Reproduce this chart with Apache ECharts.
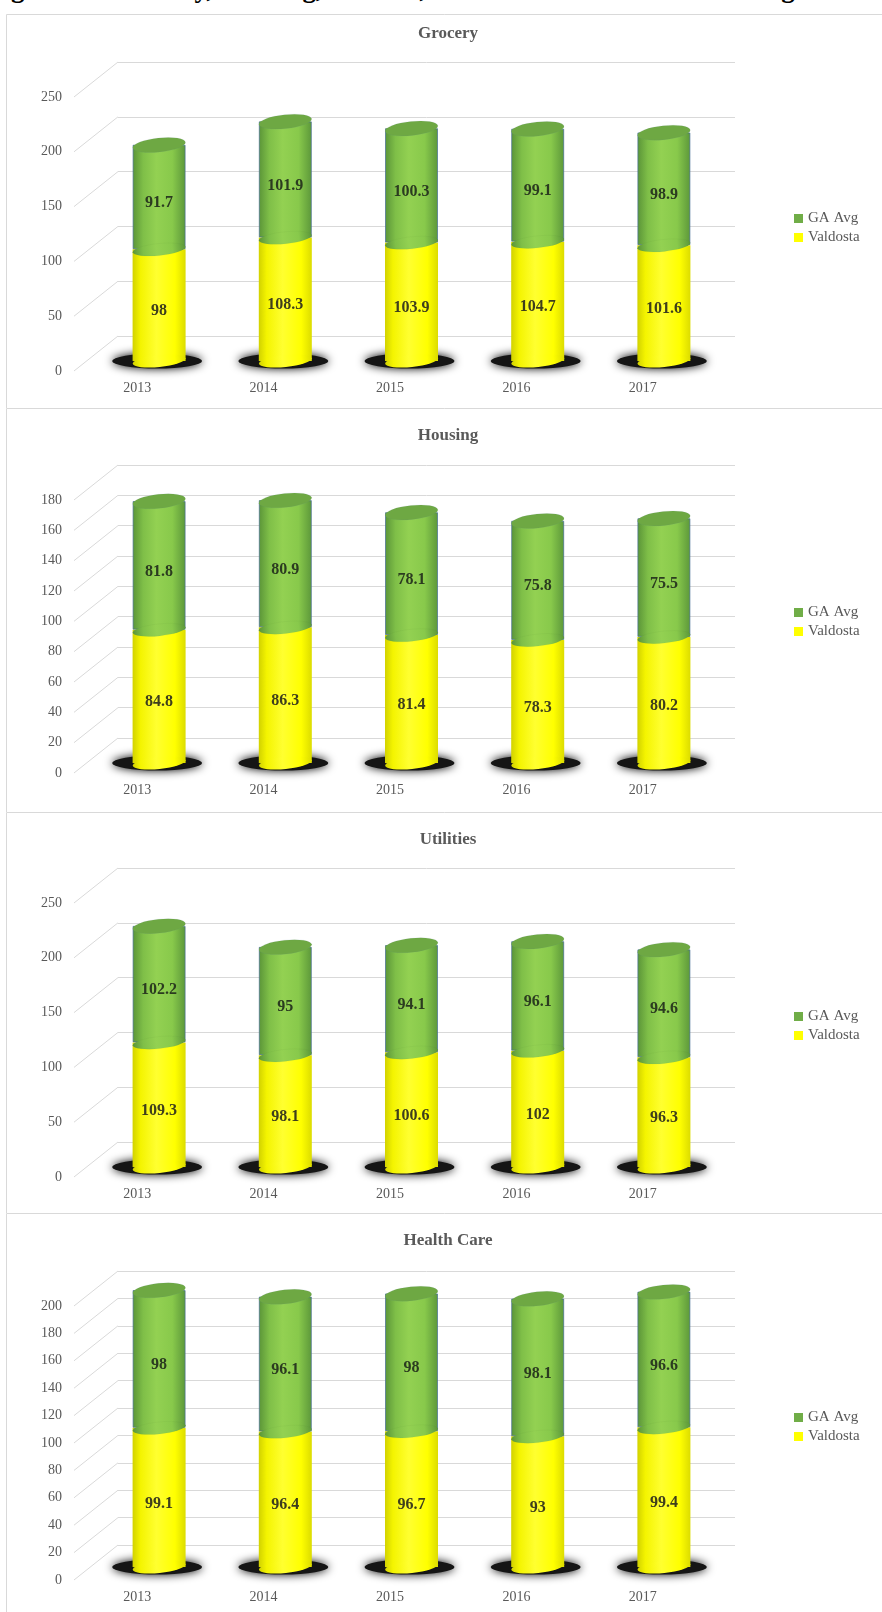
<!DOCTYPE html>
<html>
<head>
<meta charset="utf-8">
<script src="https://cdn.jsdelivr.net/npm/echarts@6/dist/echarts.min.js"></script>
<style>
  html, body { margin: 0; padding: 0; background: #fff; }
  #cap { position: absolute; left: 0; top: 0; width: 882px; height: 12px; overflow: hidden; }
  #cap div { position: absolute; left: -13px; top: -27px; font: bold 27px "Liberation Serif"; white-space: nowrap; color: #000; }
  .panel { position: absolute; left: 0; width: 882px; }
</style>
</head>
<body>
<div id="cap"><div>Figure 14: Grocery, Housing, Utilities, and Health Care Cost of Living Index</div></div>
<div id="p0" class="panel" style="top:14px;height:394px"></div>
<div id="p1" class="panel" style="top:408px;height:404px"></div>
<div id="p2" class="panel" style="top:812px;height:401px"></div>
<div id="p3" class="panel" style="top:1213px;height:399px"></div>
<script>
// data
const years = ['2013', '2014', '2015', '2016', '2017'];

const groceryValdosta = [98, 108.3, 103.9, 104.7, 101.6];
const groceryGA = [91.7, 101.9, 100.3, 99.1, 98.9];
const groceryTicks = [0, 50, 100, 150, 200, 250];

const housingValdosta = [84.8, 86.3, 81.4, 78.3, 80.2];
const housingGA = [81.8, 80.9, 78.1, 75.8, 75.5];
const housingTicks = [0, 20, 40, 60, 80, 100, 120, 140, 160, 180];

const utilitiesValdosta = [109.3, 98.1, 100.6, 102, 96.3];
const utilitiesGA = [102.2, 95, 94.1, 96.1, 94.6];
const utilitiesTicks = [0, 50, 100, 150, 200, 250];

const healthValdosta = [99.1, 96.4, 96.7, 93, 99.4];
const healthGA = [98, 96.1, 98, 98.1, 96.6];
const healthTicks = [0, 20, 40, 60, 80, 100, 120, 140, 160, 180, 200];

// cylinder shading
const yellowFill = { type: 'linear', x: 0, y: 0, x2: 1, y2: 0, colorStops: [
  { offset: 0, color: '#d2d200' }, { offset: 0.15, color: '#f4f400' },
  { offset: 0.45, color: '#ffff30' }, { offset: 0.8, color: '#ffff00' }, { offset: 1, color: '#dcdc00' }
] };
const greenFill = { type: 'linear', x: 0, y: 0, x2: 1, y2: 0, colorStops: [
  { offset: 0, color: '#5a9438' }, { offset: 0.2, color: '#7fbf48' },
  { offset: 0.45, color: '#93d152' }, { offset: 0.75, color: '#88c94b' }, { offset: 1, color: '#5c973a' }
] };

// 3D 斜线：从前沿标签处连到后墙
function diagonal(params, api) {
  const cs = params.coordSys;
  const y = api.coord([0, api.value(1)])[1];
  return {
    type: 'line',
    shape: { x1: cs.x - 44, y1: y + 35, x2: cs.x, y2: y },
    style: { stroke: '#d9d9d9', lineWidth: 1 }
  };
}

function buildPanel(el, p) {
  const chart = echarts.init(el);
  const totals = p.valdosta.map((v, i) => +(v + p.ga[i]).toFixed(1));
  const max = p.ticks[p.ticks.length - 1];
  const step = p.ticks[1] - p.ticks[0];
  const H = el.clientHeight;
  const barAxes = { xAxisIndex: 2, yAxisIndex: 2 };
  const labelFont = { fontFamily: 'Liberation Serif', fontWeight: 'bold', fontSize: 16 };

  chart.setOption({
    animation: false,
    textStyle: { fontFamily: 'Liberation Serif' },
    title: {
      text: p.title, left: 443, top: p.titleTop, textAlign: 'center',
      textStyle: { fontSize: 17, fontWeight: 'bold', color: '#595959', fontFamily: 'Liberation Serif' }
    },
    legend: {
      orient: 'vertical', left: 794, top: 197, padding: 0,
      itemWidth: 9, itemHeight: 9, itemGap: 4, icon: 'rect',
      textStyle: { fontSize: 15, color: '#595959', fontFamily: 'Liberation Serif' },
      data: [
        { name: 'GA Avg', itemStyle: { color: '#70ad47', borderWidth: 0 } },
        { name: 'Valdosta', itemStyle: { color: '#ffff00', borderWidth: 0 } }
      ]
    },
    graphic: [{
      type: 'rect', silent: true, z: -1,
      shape: { x: 6.5, y: 0.5, width: 900, height: H + 10 },
      style: { fill: 'none', stroke: '#d9d9d9', lineWidth: 1 }
    }],
    grid: [
      { left: 118, right: 147, top: p.frontTop - 35, height: p.frontH },  // back wall
      { left: 74, right: 176, top: p.frontTop, height: p.frontH },        // front edge
      { left: 96, right: 155, top: p.barBase - p.barH, height: p.barH }   // cylinders
    ],
    xAxis: [
      { gridIndex: 0, type: 'category', data: years, show: false },
      { gridIndex: 1, type: 'category', data: years,
        axisLine: { show: false }, axisTick: { show: false },
        axisLabel: { color: '#595959', fontSize: 14, margin: 10 } },
      { gridIndex: 2, type: 'category', data: years, show: false }
    ],
    yAxis: [
      { gridIndex: 0, type: 'value', min: 0, max: max, interval: step,
        axisLabel: { show: false }, axisLine: { show: false }, axisTick: { show: false },
        splitLine: { lineStyle: { color: '#d9d9d9', width: 1 } } },
      { gridIndex: 1, type: 'value', min: 0, max: max, interval: step,
        splitLine: { show: false }, axisLine: { show: false }, axisTick: { show: false },
        axisLabel: { color: '#595959', fontSize: 14, margin: 12 } },
      { gridIndex: 2, type: 'value', min: 0, max: max, show: false }
    ],
    series: [
      { type: 'custom', xAxisIndex: 0, yAxisIndex: 0, silent: true, z: 1,
        data: p.ticks.map(v => [0, v]), encode: { x: 0, y: 1 }, renderItem: diagonal },
      // 底部阴影
      Object.assign({ type: 'pictorialBar', symbol: 'circle', data: p.valdosta,
        symbolSize: [90, 15], symbolPosition: 'start', symbolOffset: [-2, '50%'],
        itemStyle: { color: '#151515', shadowBlur: 10, shadowColor: '#000' }, z: 2, silent: true }, barAxes),
      Object.assign({ name: 'Valdosta', type: 'bar', stack: 'c', barWidth: 53, data: p.valdosta,
        itemStyle: { color: yellowFill }, z: 3,
        label: Object.assign({ show: true, position: 'inside', offset: [0, 6], color: '#3e3e1c' }, labelFont) }, barAxes),
      Object.assign({ name: 'GA Avg', type: 'bar', stack: 'c', barWidth: 53, data: p.ga,
        itemStyle: { color: greenFill, borderColor: 'rgba(70,110,150,0.7)', borderWidth: 1 }, z: 3,
        label: Object.assign({ show: true, position: 'inside', offset: [0, 6], color: '#2b3b20' }, labelFont) }, barAxes),
      // 黄色底面
      Object.assign({ type: 'pictorialBar', symbol: 'circle', data: p.valdosta,
        symbolSize: [53, 12], symbolPosition: 'start', symbolOffset: [0, '50%'], symbolRotate: 6,
        itemStyle: { color: yellowFill }, z: 4, silent: true }, barAxes),
      // 分界处
      Object.assign({ type: 'pictorialBar', symbol: 'circle', data: p.valdosta,
        symbolSize: [53, 12], symbolPosition: 'end', symbolOffset: [0, '-50%'], symbolRotate: 6,
        itemStyle: { color: greenFill, borderColor: 'rgba(60,100,50,0.6)', borderWidth: 1 }, z: 4, silent: true }, barAxes),
      // 顶面
      Object.assign({ type: 'pictorialBar', symbol: 'circle', data: totals,
        symbolSize: [53, 14], symbolPosition: 'end', symbolOffset: [0, '-50%'], symbolRotate: 6,
        itemStyle: { color: '#6ea843', borderColor: '#4f7fa8', borderWidth: 1 }, z: 5, silent: true }, barAxes)
    ]
  });
}

buildPanel(document.getElementById('p0'), { title: 'Grocery', valdosta: groceryValdosta, ga: groceryGA,
  ticks: groceryTicks, titleTop: 6, frontTop: 83, frontH: 274, barBase: 347, barH: 285 });
buildPanel(document.getElementById('p1'), { title: 'Housing', valdosta: housingValdosta, ga: housingGA,
  ticks: housingTicks, titleTop: 14, frontTop: 92, frontH: 273, barBase: 355, barH: 283 });
buildPanel(document.getElementById('p2'), { title: 'Utilities', valdosta: utilitiesValdosta, ga: utilitiesGA,
  ticks: utilitiesTicks, titleTop: 14, frontTop: 91, frontH: 274, barBase: 355, barH: 285 });
buildPanel(document.getElementById('p3'), { title: 'Health Care', valdosta: healthValdosta, ga: healthGA,
  ticks: healthTicks, titleTop: 14, frontTop: 93, frontH: 274, barBase: 354, barH: 281 });
</script>
</body>
</html>
